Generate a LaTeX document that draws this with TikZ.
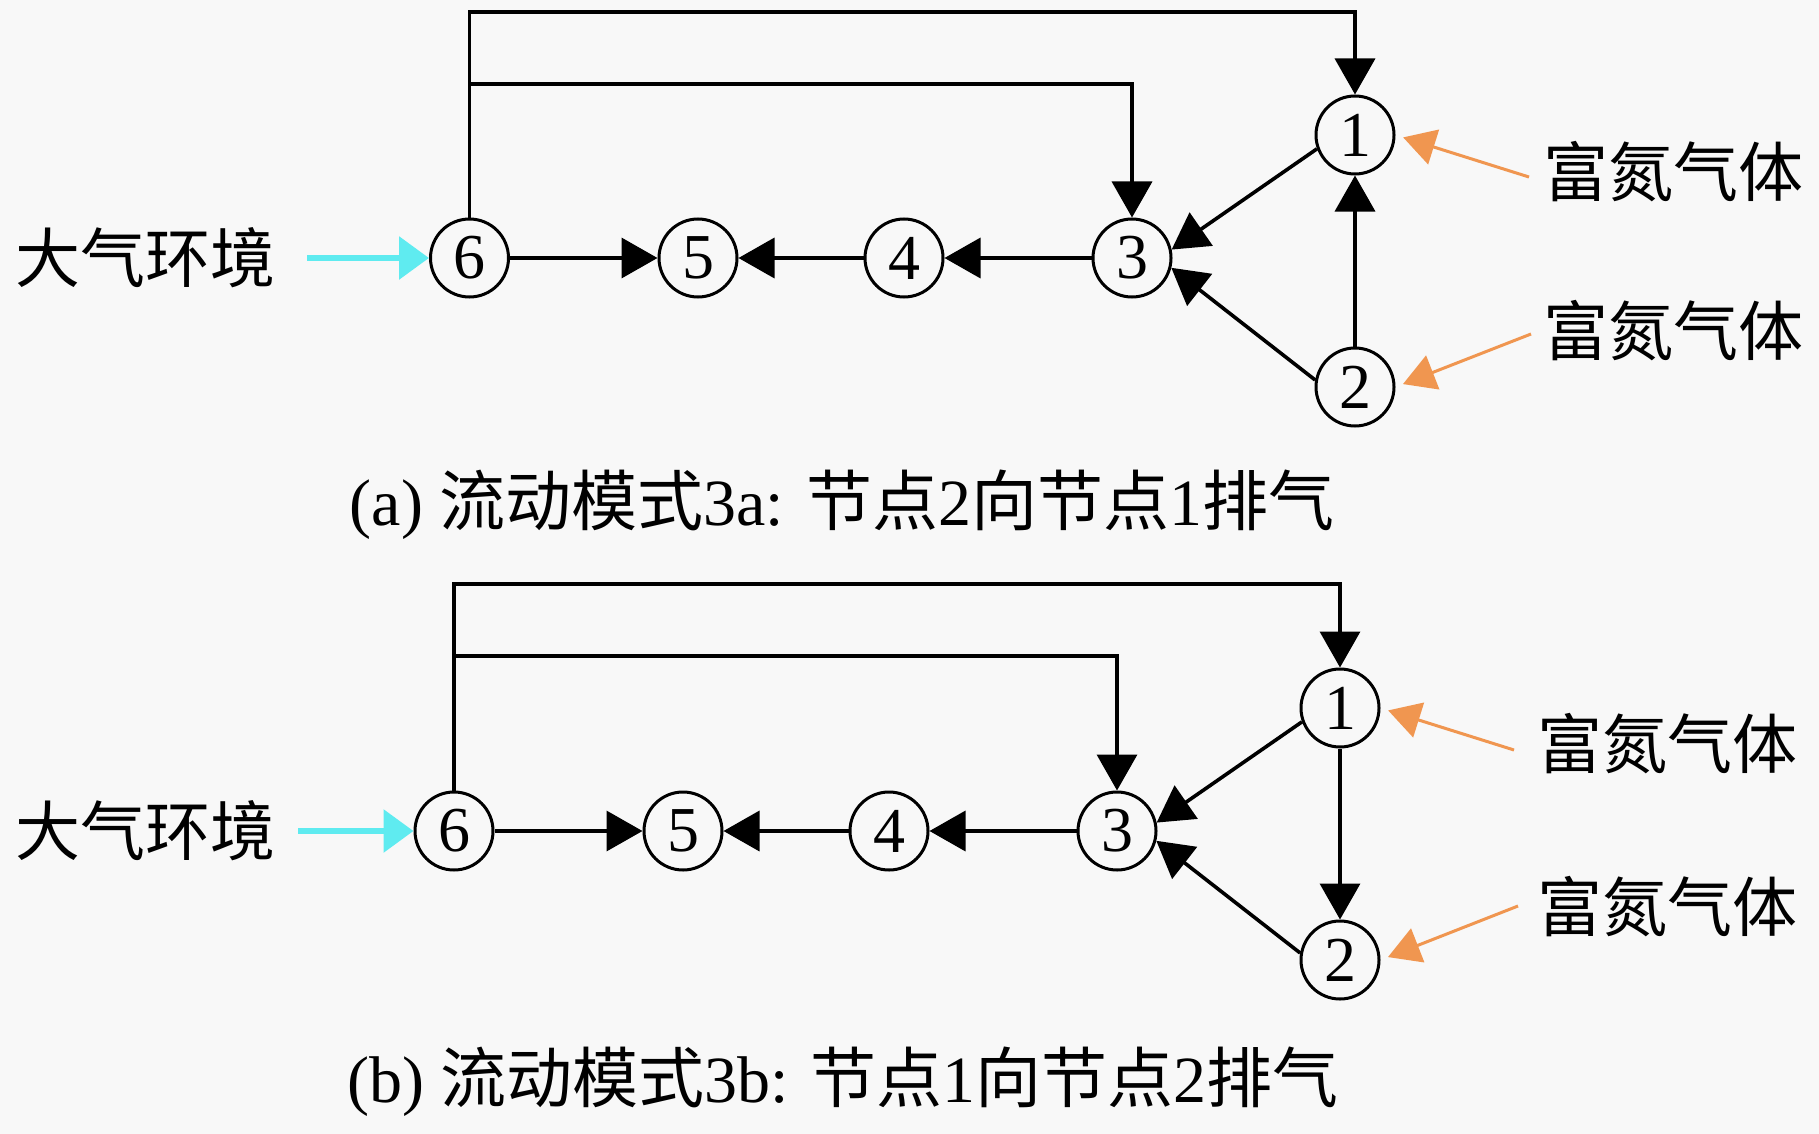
\documentclass[tikz,border=0pt]{standalone}
\usepackage{fontspec}
\setmainfont{Liberation Serif}
\newfontfamily\cjk{Noto Sans CJK SC}
\usetikzlibrary{arrows.meta}
\definecolor{bg}{RGB}{248,248,248}
\definecolor{aqua}{RGB}{95,235,240}
\definecolor{orng}{RGB}{240,150,80}
\tikzset{
 nd/.style={circle, draw, line width=3pt, minimum size=78pt, inner sep=0pt, font=\fontsize{64}{64}\selectfont},
 flow/.style={line width=3.6pt, -{Triangle[length=36pt,width=40pt]}},
 airarrow/.style={aqua, line width=6pt, -{Triangle[length=30pt,width=42pt]}},
 gasarrow/.style={orng, line width=3pt, shorten >=8pt, -{Triangle[length=32pt,width=36pt]}},
 lbl/.style={font=\cjk\fontsize{65}{65}\selectfont, inner sep=0pt},
 captxt/.style={font=\fontsize{66}{66}\selectfont, inner sep=0pt},
}
\begin{document}
\begin{tikzpicture}[x=1pt,y=-1pt]
\fill[bg] (0,0) rectangle (1819,1134);
\useasboundingbox (0,0) rectangle (1819,1134);

% ---------- panel (a) ----------
\node[nd] (a6) at (469.5,258) {6};
\node[nd] (a5) at (698,258) {5};
\node[nd] (a4) at (904,258) {4};
\node[nd] (a3) at (1132,258) {3};
\node[nd] (a1) at (1355,135) {1};
\node[nd] (a2) at (1355,387) {2};
\coordinate (atop) at (900,12);
\coordinate (amid) at (900,84);

\draw[flow] (a6) -- (a5);
\draw[flow] (a4) -- (a5);
\draw[flow] (a3) -- (a4);
\draw[flow] (a1.200) -- (a3.12);
\draw[flow] (a2.170) -- (a3.-14);
\draw[flow] (a2) -- (a1);
\draw[flow] (a6.north) |- (atop) -| (a1.north);
\draw[flow] (a6.north |- amid) -| (a3.north);

\node[lbl] (aenv) at (145,258) {大气环境};
\coordinate (aair) at (307,258);
\draw[airarrow] (aair) -- (a6);

\node[lbl] (agas1) at (1673,172) {富氮气体};
\node[lbl] (agas2) at (1673,331) {富氮气体};
\coordinate (ag1) at (1529,177);
\coordinate (ag2) at (1531,334);
\draw[gasarrow] (ag1) -- (a1.east);
\draw[gasarrow] (ag2) -- (a2.east);

\node[captxt] (capa) at (842,505) {(a) {\cjk 流动模式}3a: {\cjk 节点}2{\cjk 向节点}1{\cjk 排气}};

% ---------- panel (b) ----------
\node[nd] (b6) at (454,831) {6};
\node[nd] (b5) at (683,831) {5};
\node[nd] (b4) at (889,831) {4};
\node[nd] (b3) at (1117,831) {3};
\node[nd] (b1) at (1340,708) {1};
\node[nd] (b2) at (1340,960) {2};
\coordinate (btop) at (900,584);
\coordinate (bmid) at (900,656);

\draw[flow] (b6) -- (b5);
\draw[flow] (b4) -- (b5);
\draw[flow] (b3) -- (b4);
\draw[flow] (b1.200) -- (b3.12);
\draw[flow] (b2.170) -- (b3.-14);
\draw[flow] (b1) -- (b2);
\draw[flow] (b6.north) |- (btop) -| (b1.north);
\draw[flow] (b6.north |- bmid) -| (b3.north);

\node[lbl] (benv) at (145,831) {大气环境};
\coordinate (bair) at (298,831);
\draw[airarrow] (bair) -- (b6);

\node[lbl] (bgas1) at (1667,744) {富氮气体};
\node[lbl] (bgas2) at (1667,907) {富氮气体};
\coordinate (bg1) at (1514,750);
\coordinate (bg2) at (1518,906);
\draw[gasarrow] (bg1) -- (b1.east);
\draw[gasarrow] (bg2) -- (b2.east);

\node[captxt] (capb) at (843,1082) {(b) {\cjk 流动模式}3b: {\cjk 节点}1{\cjk 向节点}2{\cjk 排气}};
\end{tikzpicture}
\end{document}
